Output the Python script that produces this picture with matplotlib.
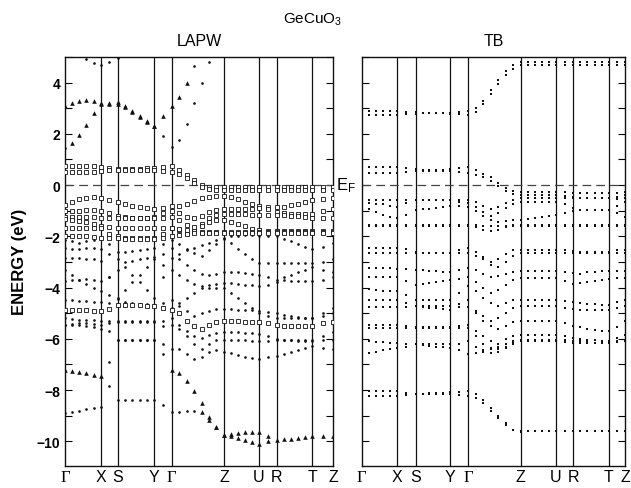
import numpy as np
import matplotlib
matplotlib.use("Agg")
import matplotlib.pyplot as plt
from matplotlib.ticker import MultipleLocator

plt.rcParams['font.family'] = ['Liberation Sans', 'DejaVu Sans']
plt.rcParams['mathtext.default'] = 'regular'

NA = np.nan

# symmetry points along the k path (fraction of path length)
k_labels = ['Γ', 'X', 'S', 'Y', 'Γ', 'Z', 'U', 'R', 'T', 'Z']
k_nodes_lapw = [0.0, 0.133, 0.198, 0.332, 0.398, 0.593, 0.724, 0.790, 0.922, 1.0]
k_nodes_tb = [0.0, 0.135, 0.205, 0.335, 0.405, 0.604, 0.738, 0.803, 0.939, 1.0]
# k points computed on each segment  Γ-X, X-S, S-Y, Y-Γ, Γ-Z, Z-U, U-R, R-T, T-Z
k_steps = [5, 2, 5, 2, 7, 5, 2, 5, 2]

# ---------------- LAPW bands (eV), 36 k points each ----------------
# rows:  Γ-X X-S S-Y Y-Γ | Γ-Z | Z-U U-R R-T T-Z
lapw_tri_a = [3.1, 3.22, 3.3, 3.33, 3.3, 3.2, 3.18, 3.15, 3.05, 2.85, 2.65, 2.45, 2.3, 2.7, 3.1,
              3.45, 4.0, NA, NA, NA, NA, NA,
              NA, NA, NA, NA, NA, NA, NA, NA, NA, NA, NA, NA, NA, NA]
lapw_tri_b = [NA, 1.65, 1.95, 2.35, 2.8, 3.15, 3.2, 3.25, 3.1, 2.9, 2.7, 2.5, 2.3, NA, NA,
              NA, NA, NA, NA, NA, NA, NA,
              NA, NA, NA, NA, NA, NA, NA, NA, NA, NA, NA, NA, NA, NA]
lapw_dot_b = [1.45, NA, NA, NA, NA, NA, NA, NA, NA, NA, NA, NA, NA, 1.9, 1.5,
              1.75, 2.4, 3.2, 4.0, 4.8, NA, NA,
              NA, NA, NA, NA, NA, NA, NA, NA, NA, NA, NA, NA, NA, NA]
lapw_dot_c = [NA, NA, NA, 4.93, 4.78, 4.67, 4.8, 4.98, NA, NA, NA, NA, NA, NA, NA,
              NA, NA, 4.65, NA, NA, NA, NA,
              NA, NA, NA, NA, NA, NA, NA, NA, NA, NA, NA, NA, NA, NA]

lapw_d1 = [0.75, 0.75, 0.75, 0.75, 0.75, 0.72, 0.68, 0.63, 0.62, 0.62, 0.63, 0.65, 0.68, 0.72, 0.75,
           0.6, 0.4, 0.2, 0.02, -0.06, -0.08, -0.08,
           -0.08, -0.08, -0.08, -0.08, -0.08, -0.08, -0.08, -0.08, -0.08, -0.08, -0.08, -0.08, -0.08, -0.08]
lapw_d2 = [0.52, 0.52, 0.52, 0.52, 0.52, 0.55, 0.58, 0.6, 0.6, 0.6, 0.6, 0.6, 0.6, 0.56, 0.52,
           0.45, 0.28, 0.1, -0.06, -0.15, -0.18, -0.18,
           -0.18, -0.18, -0.18, -0.18, -0.18, -0.18, -0.18, -0.18, -0.18, -0.18, -0.18, -0.18, -0.18, -0.18]
lapw_v1 = [-0.78, -0.65, -0.55, -0.5, -0.48, -0.52, -0.6, -0.65, -0.72, -0.8, -0.86, -0.9, -0.93, -0.88, -0.8,
           -0.8, -0.72, -0.62, -0.52, -0.45, -0.42, -0.42,
           -0.48, -0.56, -0.64, -0.72, -0.8, -0.85, -0.87, -0.84, -0.78, -0.72, -0.66, -0.6, -0.55, -0.5]
lapw_v2 = [-1.0, -1.0, -1.0, -0.98, -0.97, -1.0, -1.1, -1.2, -1.25, -1.27, -1.27, -1.27, -1.25, -1.1, -1.0,
           -1.1, -1.25, -1.3, -1.2, -1.05, -0.97, -0.95,
           -0.95, -0.95, -0.93, -0.92, -0.9, -0.95, -1.05, -1.1, -1.12, -1.12, -1.12, -1.12, -1.0, -0.95]
lapw_v3 = [-1.23, -1.25, -1.25, -1.25, -1.25, -1.3, -1.3, -1.3, -1.3, -1.3, -1.3, -1.3, -1.3, -1.27, -1.23,
           -1.35, -1.55, -1.65, -1.5, -1.3, -1.18, -1.14,
           -1.12, -1.12, -1.14, -1.15, -1.15, -1.15, -1.15, -1.18, -1.2, -1.22, -1.25, -1.28, -1.3, -1.3]
lapw_v4 = [-1.33, -1.35, -1.4, -1.45, -1.5, -1.6, -1.65, -1.68, -1.68, -1.68, -1.68, -1.68, -1.68, -1.68, -1.68,
           -1.75, -1.85, -1.8, -1.6, -1.45, -1.38, -1.36,
           -1.42, -1.5, -1.6, -1.7, -1.77, -1.78, -1.78, -1.78, -1.78, -1.78, -1.78, -1.78, -1.78, -1.78]
lapw_v5 = [-1.68, -1.68, -1.68, -1.68, -1.68, -1.68, -1.9, -2.0, -2.07, -2.07, -2.07, -2.07, -2.07, -1.9, -1.68,
           -1.7, -1.75, -1.8, -1.82, -1.83, -1.83, -1.83,
           -1.83, -1.83, -1.83, -1.83, -1.83, -1.83, -1.83, -1.83, -1.83, -1.83, -1.83, -1.83, -1.83, -1.83]
lapw_v6 = [-1.98, -1.98, -2.0, -2.0, -2.02, -2.05, -2.07, -2.07, -2.1, -2.1, -2.1, -2.1, -2.1, -2.05, -1.98,
           -1.95, -1.9, -1.88, -1.87, -1.86, -1.86, -1.86,
           -1.87, -1.87, -1.87, -1.87, -1.87, -1.87, -1.87, -1.87, -1.87, -1.87, -1.87, -1.87, -1.87, -1.87]
lapw_w7 = [-4.86, -4.86, -4.86, -4.88, -4.9, -4.93, -4.85, -4.67, -4.67, -4.67, -4.68, -4.7, -4.72, -4.8, -4.86,
           -5.0, -5.3, -5.5, -5.6, -5.45, -5.35, -5.32,
           -5.32, -5.32, -5.33, -5.34, -5.35, -5.4, -5.45, -5.5, -5.5, -5.5, -5.5, -5.5, -5.4, -5.35]

lapw_w1 = [-2.15, -2.2, -2.25, -2.2, -2.15, -2.1, -2.3, -2.6, -2.6, -2.56, -2.52, -2.48, -2.45, -2.3, -2.15,
           -2.3, -2.5, -2.65, -2.75, -2.55, -2.3, -2.1,
           -2.0, -1.97, -1.95, -1.95, -1.98, -2.0, -2.0, -2.1, -2.2, -2.3, -2.4, -2.5, -2.4, -2.25]
lapw_w2 = [-2.45, -2.5, -2.5, -2.45, -2.45, -2.5, -2.7, -2.9, -3.2, -3.5, -3.8, -4.1, -4.4, -3.6, -2.85,
           -2.7, -2.55, -2.45, -2.35, -2.25, -2.15, -2.05,
           -2.25, -2.5, -2.7, -2.9, -3.05, -3.05, -3.05, -3.05, -3.05, -3.05, -3.05, -3.05, -3.0, -2.9]
lapw_w3 = [-2.85, -2.85, -2.85, -2.88, -2.9, -2.95, -3.6, -4.4, -4.1, -3.8, -3.5, -3.2, -2.9, -2.7, -2.45,
           -2.9, -3.1, -3.3, -3.45, -3.5, -3.45, -3.4,
           -3.4, -3.4, -3.42, -3.45, -3.5, -3.6, -3.7, -3.72, -3.74, -3.75, -3.75, -3.75, -3.7, -3.6]
lapw_w4 = [-3.3, -3.5, -3.7, -3.85, -4.0, -4.15, -4.3, -4.45, -4.55, -4.6, -4.62, -4.65, -4.67, -4.75, -4.8,
           -4.6, -4.4, -4.2, -4.0, -3.88, -3.85, -3.83,
           -3.83, -3.85, -3.88, -3.9, -3.92, -3.88, -3.8, -3.6, -3.5, -3.4, -3.3, -3.2, -3.3, -3.4]
lapw_w5 = [-3.75, -3.72, -3.7, -3.68, -3.7, -3.75, -3.6, -3.3, -3.0, -2.95, -2.9, -2.85, -2.8, -3.1, -3.3,
           -3.5, -3.7, -3.85, -3.95, -4.0, -4.02, -4.02,
           -4.2, -4.4, -4.6, -4.8, -5.0, -5.1, -5.19, -5.19, -5.19, -5.19, -5.19, -5.19, -5.0, -4.8]
lapw_w6 = [-4.47, -4.5, -4.52, -4.54, -4.55, -4.55, -4.6, -4.65, -4.65, -4.65, -4.65, -4.66, -4.67, -4.6, -4.47,
           -4.7, -4.9, -5.1, -5.0, -4.9, -4.85, -4.85,
           -4.85, -4.86, -4.86, -4.88, -4.9, -4.95, -5.0, -5.05, -5.1, -5.15, -5.2, -5.2, -5.1, -5.0]
lapw_w8 = [-5.19, -5.22, -5.25, -5.25, -5.28, -5.3, -5.32, -5.32, -5.32, -5.32, -5.32, -5.32, -5.32, -5.3, -5.19,
           -5.45, -5.7, -5.9, -5.95, -5.85, -5.78, -5.75,
           -5.75, -5.75, -5.76, -5.78, -5.8, -5.9, -6.0, -6.03, -6.03, -6.03, -6.03, -6.05, -5.9, -5.75]
lapw_w9 = [-5.45, -5.42, -5.4, -5.4, -5.42, -5.45, -5.4, -5.35, -5.35, -5.35, -5.35, -5.35, -5.35, -5.5, -5.45,
           -5.6, -5.9, -6.2, -6.4, -6.2, -6.05, -6.03,
           -6.03, -6.03, -6.05, -6.07, -6.1, -6.07, -6.05, -6.05, -6.05, -6.07, -6.07, -6.07, -6.05, -6.03]
lapw_w10 = [-5.45, -5.45, -5.45, -5.5, -5.55, -5.6, -5.7, -6.03, -6.03, -6.03, -6.03, -6.03, -6.03, -6.2, -6.4,
            -6.4, -6.6, -6.8, -6.7, -6.5, -6.45, -6.5,
            -6.55, -6.62, -6.7, -6.75, -6.8, -6.72, -6.65, -6.6, -6.5, -6.42, -6.35, -6.29, -6.35, -6.4]
lapw_low_dot1 = [-8.9, -8.85, -8.8, -8.75, -8.7, -8.65, -7.85, -8.37, -8.37, -8.37, -8.37, -8.37, -8.37, -8.6, -8.85,
                 -8.85, -8.82, -8.8, NA, NA, NA, NA,
                 NA, NA, NA, NA, NA, NA, NA, NA, NA, NA, NA, NA, NA, NA]
lapw_low_dot2 = [NA, NA, NA, NA, NA, NA, -6.9, -6.05, -6.05, -6.05, -6.05, -6.05, -6.05, -6.6, NA,
                 NA, NA, NA, NA, NA, NA, NA,
                 NA, NA, NA, NA, NA, NA, NA, NA, NA, NA, NA, NA, NA, NA]
lapw_low_tri1 = [-7.2, -7.25, -7.3, -7.35, -7.4, -7.45, NA, NA, NA, NA, NA, NA, NA, NA, -7.2,
                 -7.35, -7.65, -8.05, -8.5, -9.05, -9.45, -9.75,
                 -9.7, -9.66, -9.64, -9.63, -9.65, -9.8, -9.93, -9.92, -9.9, -9.87, -9.84, -9.81, -9.8, -9.78]
lapw_low_tri2 = [NA, NA, NA, NA, NA, NA, NA, NA, NA, NA, NA, NA, NA, NA, NA,
                 NA, NA, NA, -8.85, -9.15, -9.45, -9.75,
                 -9.8, -9.88, -9.95, -10.03, -10.1, -10.0, NA, NA, NA, NA, NA, NA, NA, NA]

# ---------------- TB bands (eV) ----------------
tb_c1 = [2.88, 2.88, 2.88, 2.88, 2.88, 2.88, 2.86, 2.84, 2.82, 2.82, 2.8, 2.8, 2.82, 2.85, 2.88,
         3.0, 3.3, 3.7, 4.1, 4.45, 4.68, 4.8,
         4.8, 4.8, 4.8, 4.8, 4.8, 4.8, 4.8, 4.8, 4.8, 4.8, 4.8, 4.8, 4.8, 4.8]
tb_c2 = [2.75, 2.75, 2.75, 2.75, 2.75, 2.75, 2.76, 2.78, 2.8, 2.8, 2.8, 2.8, 2.78, 2.76, 2.75,
         2.85, 3.15, 3.55, 3.95, 4.3, 4.55, 4.67,
         4.67, 4.67, 4.67, 4.67, 4.67, 4.67, 4.67, 4.67, 4.67, 4.67, 4.67, 4.67, 4.67, 4.67]
tb_d1 = [0.72, 0.72, 0.72, 0.72, 0.72, 0.72, 0.68, 0.62, 0.6, 0.6, 0.6, 0.6, 0.62, 0.68, 0.72,
         0.6, 0.45, 0.3, 0.1, -0.1, -0.22, -0.28,
         -0.28, -0.28, -0.28, -0.28, -0.28, -0.28, -0.3, -0.32, -0.32, -0.32, -0.32, -0.32, -0.3, -0.28]
tb_d2 = [0.49, 0.49, 0.49, 0.49, 0.49, 0.49, 0.52, 0.55, 0.55, 0.55, 0.55, 0.55, 0.55, 0.52, 0.49,
         0.4, 0.3, 0.15, -0.05, -0.22, -0.35, -0.4,
         -0.4, -0.4, -0.4, -0.4, -0.4, -0.42, -0.45, -0.52, -0.52, -0.52, -0.52, -0.52, -0.48, -0.4]
tb_v1 = [-0.58, -0.58, -0.58, -0.58, -0.58, -0.58, -0.58, -0.58, -0.58, -0.58, -0.58, -0.58, -0.58, -0.58, -0.58,
         -0.65, -0.8, -0.95, -0.85, -0.7, -0.58, -0.52,
         -0.52, -0.52, -0.52, -0.52, -0.52, -0.52, -0.52, -0.52, -0.52, -0.52, -0.52, -0.52, -0.55, -0.52]
tb_v2 = [-0.69, -0.7, -0.72, -0.75, -0.8, -0.85, -0.7, -0.6, -0.6, -0.6, -0.6, -0.6, -0.6, -0.65, -0.69,
         -0.85, -1.05, -1.2, -1.1, -0.9, -0.72, -0.65,
         -0.65, -0.65, -0.65, -0.65, -0.65, -0.75, -0.9, -0.97, -0.97, -0.97, -0.97, -0.97, -0.8, -0.65]
tb_v3 = [-0.84, -0.95, -1.05, -1.15, -1.25, -1.3, -1.15, -0.97, -0.95, -0.92, -0.88, -0.84, -0.8, -0.82, -0.84,
         -1.0, -1.2, -1.35, -1.45, -1.4, -1.38, -1.36,
         -1.32, -1.28, -1.24, -1.2, -1.17, -1.1, -1.0, -0.97, -0.97, -0.97, -0.97, -0.97, -1.1, -1.25]
tb_v4 = [-1.56, -1.56, -1.56, -1.56, -1.56, -1.56, -1.56, -1.56, -1.56, -1.56, -1.56, -1.56, -1.56, -1.56, -1.56,
         -1.56, -1.58, -1.6, -1.6, -1.58, -1.56, -1.56,
         -1.56, -1.56, -1.56, -1.56, -1.56, -1.56, -1.56, -1.56, -1.56, -1.56, -1.56, -1.56, -1.56, -1.56]
tb_v5 = [-1.6, -1.6, -1.6, -1.6, -1.6, -1.6, -1.6, -1.6, -1.6, -1.6, -1.6, -1.6, -1.6, -1.6, -1.6,
         -1.65, -1.75, -1.8, -1.75, -1.65, -1.6, -1.6,
         -1.6, -1.6, -1.6, -1.6, -1.6, -1.6, -1.6, -1.6, -1.6, -1.6, -1.6, -1.6, -1.6, -1.6]
tb_l1 = [-2.46, -2.46, -2.46, -2.46, -2.46, -2.46, -2.5, -2.6, -2.66, -2.66, -2.66, -2.66, -2.66, -2.55, -2.46,
         -2.6, -2.8, -3.0, -2.9, -2.7, -2.55, -2.53,
         -2.53, -2.53, -2.53, -2.53, -2.53, -2.55, -2.58, -2.6, -2.6, -2.6, -2.6, -2.6, -2.55, -2.53]
tb_l2 = [-2.66, -2.66, -2.66, -2.66, -2.66, -2.66, -2.66, -2.66, -2.66, -2.66, -2.66, -2.66, -2.66, -2.66, -2.66,
         -2.75, -2.9, -3.1, -3.2, -3.0, -2.75, -2.66,
         -2.66, -2.66, -2.66, -2.66, -2.66, -2.66, -2.66, -2.66, -2.66, -2.66, -2.66, -2.66, -2.66, -2.66]
tb_l3 = [-3.24, -3.24, -3.24, -3.25, -3.25, -3.26, -3.28, -3.3, -3.32, -3.34, -3.36, -3.38, -3.4, -3.3, -3.24,
         -3.3, -3.45, -3.6, -3.55, -3.45, -3.4, -3.37,
         -3.37, -3.37, -3.37, -3.37, -3.37, -3.4, -3.42, -3.45, -3.4, -3.38, -3.37, -3.37, -3.37, -3.37]
tb_l4 = [-3.6, -3.6, -3.6, -3.6, -3.6, -3.6, -3.75, -3.9, -3.86, -3.82, -3.78, -3.74, -3.7, -3.65, -3.6,
         -3.8, -4.0, -4.2, -4.1, -3.9, -3.7, -3.63,
         -3.63, -3.63, -3.63, -3.63, -3.63, -3.75, -3.85, -3.82, -3.78, -3.74, -3.7, -3.66, -3.64, -3.63]
tb_l5 = [-3.95, -4.05, -4.1, -4.15, -4.15, -4.15, -4.3, -4.47, -4.47, -4.47, -4.47, -4.47, -4.47, -4.2, -3.95,
         -4.15, -4.4, -4.6, -4.7, -4.6, -4.5, -4.47,
         -4.47, -4.47, -4.47, -4.47, -4.47, -4.52, -4.58, -4.6, -4.62, -4.64, -4.66, -4.66, -4.55, -4.47]
tb_l6 = [-4.47, -4.47, -4.47, -4.47, -4.47, -4.47, -4.6, -4.73, -4.76, -4.78, -4.8, -4.83, -4.86, -4.65, -4.47,
         -4.9, -5.1, -5.3, -5.2, -5.0, -4.8, -4.73,
         -4.73, -4.73, -4.73, -4.73, -4.73, -4.78, -4.82, -4.86, -4.86, -4.86, -4.86, -4.86, -4.8, -4.73]
tb_l7 = [-4.75, -4.75, -4.75, -4.75, -4.75, -4.75, -4.75, -4.73, -4.73, -4.73, -4.73, -4.73, -4.73, -4.75, -4.75,
         -5.0, -5.3, -5.5, -5.6, -5.5, -5.35, -5.32,
         -5.32, -5.32, -5.32, -5.32, -5.32, -5.4, -5.5, -5.55, -5.6, -5.65, -5.7, -5.71, -5.55, -5.32]
tb_l8 = [-5.45, -5.45, -5.45, -5.45, -5.45, -5.45, -5.5, -5.55, -5.55, -5.55, -5.55, -5.55, -5.55, -5.5, -5.45,
         -5.7, -5.9, -6.1, -6.2, -6.0, -5.9, -5.84,
         -5.84, -5.84, -5.84, -5.84, -5.84, -5.9, -5.95, -6.0, -6.03, -6.05, -6.07, -6.07, -5.95, -5.84]
tb_l9 = [-5.58, -5.58, -5.58, -5.58, -5.58, -5.58, -5.58, -5.58, -5.58, -5.58, -5.58, -5.58, -5.58, -5.58, -5.58,
         -5.9, -6.2, -6.35, -6.4, -6.3, -6.1, -6.03,
         -6.03, -6.03, -6.03, -6.03, -6.03, -6.05, -6.07, -6.1, -6.12, -6.15, -6.15, -6.15, -6.1, -6.03]
tb_l10 = [-6.09, -6.1, -6.12, -6.13, -6.15, -6.15, -6.2, -6.22, -6.25, -6.28, -6.3, -6.32, -6.35, -6.2, -6.09,
          -6.3, -6.45, -6.55, -6.5, -6.35, -6.2, -6.1,
          -6.1, -6.1, -6.1, -6.1, -6.1, -6.12, -6.15, -6.15, -6.15, -6.15, -6.15, -6.15, -6.12, -6.1]
tb_l11 = [-6.6, -6.55, -6.5, -6.45, -6.4, -6.35, -6.3, -6.22, -6.22, -6.22, -6.22, -6.22, -6.22, -6.45, -6.6,
          -6.55, -6.5, -6.4, -6.3, -6.2, -6.15, -6.1,
          NA, NA, NA, NA, NA, NA, NA, NA, NA, NA, NA, NA, NA, NA]
tb_b1 = [-8.04, -8.04, -8.04, -8.04, -8.04, -8.04, -8.1, -8.17, -8.15, -8.13, -8.11, -8.1, -8.08, -8.06, -8.04,
         -8.15, -8.4, -8.7, -9.0, -9.3, -9.55, -9.6,
         -9.6, -9.6, -9.6, -9.6, -9.6, -9.6, -9.6, -9.6, -9.6, -9.6, -9.6, -9.6, -9.6, -9.6]
tb_b2 = [-8.23, -8.23, -8.23, -8.23, -8.23, -8.23, -8.2, -8.17, -8.17, -8.17, -8.17, -8.17, -8.17, -8.2, -8.23,
         -8.3, -8.5, -8.8, -9.1, -9.35, -9.57, -9.62,
         NA, NA, NA, NA, NA, NA, NA, NA, NA, NA, NA, NA, NA, NA]


def k_path(nodes):
    ks = [nodes[0]]
    for i, n in enumerate(k_steps):
        ks.extend(np.linspace(nodes[i], nodes[i + 1], n + 1)[1:])
    return np.array(ks)


sq = dict(marker='s', ms=2.7, mfc='white', mec='#111111', mew=0.6)
tri = dict(marker='^', ms=3.3, mfc='#111111', mec='#111111', mew=0)
dot = dict(marker='o', ms=1.9, mfc='#111111', mec='#111111', mew=0)
tbdot = dict(marker='s', ms=1.7, mfc='#111111', mec='#111111', mew=0)

lapw_groups = [
    ([lapw_w1, lapw_w2, lapw_w3, lapw_w4, lapw_w5, lapw_w6, lapw_w8, lapw_w9, lapw_w10,
      lapw_low_dot1, lapw_low_dot2, lapw_dot_b, lapw_dot_c], dot),
    ([lapw_d1, lapw_d2, lapw_v1, lapw_v2, lapw_v3, lapw_v4, lapw_v5, lapw_v6, lapw_w7], sq),
    ([lapw_tri_a, lapw_tri_b, lapw_low_tri1, lapw_low_tri2], tri),
]
tb_groups = [
    ([tb_c1, tb_c2, tb_d1, tb_d2, tb_v1, tb_v2, tb_v3, tb_v4, tb_v5, tb_l1, tb_l2, tb_l3, tb_l4,
      tb_l5, tb_l6, tb_l7, tb_l8, tb_l9, tb_l10, tb_l11, tb_b1, tb_b2], tbdot),
]

fig = plt.figure(figsize=(6.31, 4.89), dpi=100)
bottom = 1 - 466.7 / 489
height = (466.7 - 58) / 489
ax1 = fig.add_axes([65 / 631, bottom, 268 / 631, height])
ax2 = fig.add_axes([361.7 / 631, bottom, 263.3 / 631, height])


def draw_panel(ax, nodes, groups, show_labels):
    k = k_path(nodes)
    for bands, style in groups:
        for e in bands:
            assert len(e) == len(k), len(e)
            ax.plot(k, e, ls='none', zorder=3, **style)
    for x in nodes[1:-1]:
        ax.axvline(x, color='#111111', lw=0.9, zorder=1)
    ax.axhline(0, color='#444444', lw=0.9, dashes=(7, 4), zorder=2)
    ax.set_xlim(0, 1)
    ax.set_ylim(-10.95, 5.0)
    ax.set_yticks(range(-10, 5, 2))
    ax.yaxis.set_minor_locator(MultipleLocator(1))
    ax.tick_params(axis='y', which='both', direction='in', length=5, width=0.8,
                   left=True, right=True, labelleft=show_labels, labelsize=10)
    for lab in ax.get_yticklabels():
        lab.set_fontweight('bold')
    ax.set_xticks(nodes)
    ax.set_xticklabels(k_labels, fontsize=11.5)
    ax.tick_params(axis='x', length=0, pad=2.5)
    for lab in ax.get_xticklabels():
        if lab.get_text() == 'Γ':
            lab.set_fontfamily('Liberation Serif')
            lab.set_fontsize(12)
    for s in ax.spines.values():
        s.set_linewidth(1.0)
        s.set_color('#111111')


draw_panel(ax1, k_nodes_lapw, lapw_groups, True)
draw_panel(ax2, k_nodes_tb, tb_groups, False)

ax1.set_ylabel('ENERGY (eV)', fontsize=12, fontweight='bold', labelpad=7)
fig.text(313 / 631, 1 - 20 / 489, 'GeCuO$_3$', ha='center', va='center', fontsize=11)
fig.text(199 / 631, 1 - 41 / 489, 'LAPW', ha='center', va='center', fontsize=11.5)
fig.text(494 / 631, 1 - 41 / 489, 'TB', ha='center', va='center', fontsize=11.5)
fig.text(336 / 631, 1 - 190 / 489, 'E$_F$', ha='left', va='baseline', fontsize=12)

fig.savefig('out.png', dpi=100)
